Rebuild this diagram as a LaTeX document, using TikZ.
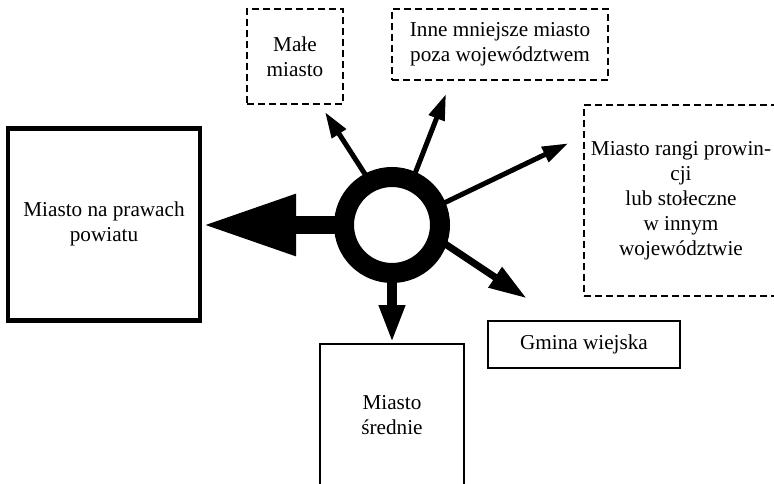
\documentclass[tikz,border=0pt]{standalone}
\usepackage{fontspec}
\setmainfont{Liberation Serif}
\usetikzlibrary{arrows.meta}
\begin{document}
\begin{tikzpicture}[x=1pt, y=-1pt,
    every node/.style={font=\fontsize{21.2pt}{25pt}\selectfont, align=center, inner sep=0pt},
    thinbox/.style={draw, rectangle, line width=2pt},
    dashbox/.style={draw, rectangle, line width=2pt, dash pattern=on 7pt off 4pt},
    thinarrow/.style={line width=5pt, -{Triangle[length=26pt, width=16pt]}}]
    \useasboundingbox (0,0) rectangle (774,484);

    \node[draw, rectangle, line width=4.5pt, minimum width=191.6pt, minimum height=192pt] (powiat) at (104,224.3) {Miasto na prawach\\powiatu};
    \node[draw, circle, line width=20pt, minimum size=96pt] (ring) at (392,225) {};
    \node[thinbox, minimum width=144pt, minimum height=142pt] (srednie) at (392,415) {Miasto\\średnie};
    \node[dashbox, minimum width=96pt, minimum height=95pt] (male) at (295,56.5) {Małe\\miasto};
    \node[dashbox, minimum width=216pt, minimum height=71pt] (inne) at (500,44.5) {Inne mniejsze miasto\\poza województwem};
    \node[dashbox, minimum width=194pt, minimum height=191pt] (prowincja) at (681,200.5) {Miasto rangi prowin-\\cji\\lub stołeczne\\w innym\\województwie};
    \node[thinbox, minimum width=192pt, minimum height=47.5pt] (gmina) at (584,344.5) {Gmina wiejska};

    \coordinate (maleTip) at (325,112);
    \coordinate (inneTip) at (446,94);
    \coordinate (prowTip) at (568.3,143.3);
    \coordinate (gminaTip) at (526.7,298.3);

    \draw[line width=18pt, shorten <=-4pt, -{Triangle[length=94pt, width=57pt]}] (ring.west) -- (ring.west -| powiat.east);
    \draw[line width=10pt, shorten <=-4pt, -{Triangle[length=38pt, width=24pt]}] (ring.south) -- (srednie.north);
    \draw[thinarrow, shorten <=-3pt] (ring.118) -- (maleTip);
    \draw[thinarrow, shorten <=-3pt] (ring.66.5) -- (inneTip);
    \draw[thinarrow, shorten <=-3pt] (ring.23.3) -- (prowTip);
    \draw[line width=7pt, shorten <=-3pt, -{Triangle[length=38pt, width=23pt]}] (ring.-20.5) -- (gminaTip);
\end{tikzpicture}
\end{document}
